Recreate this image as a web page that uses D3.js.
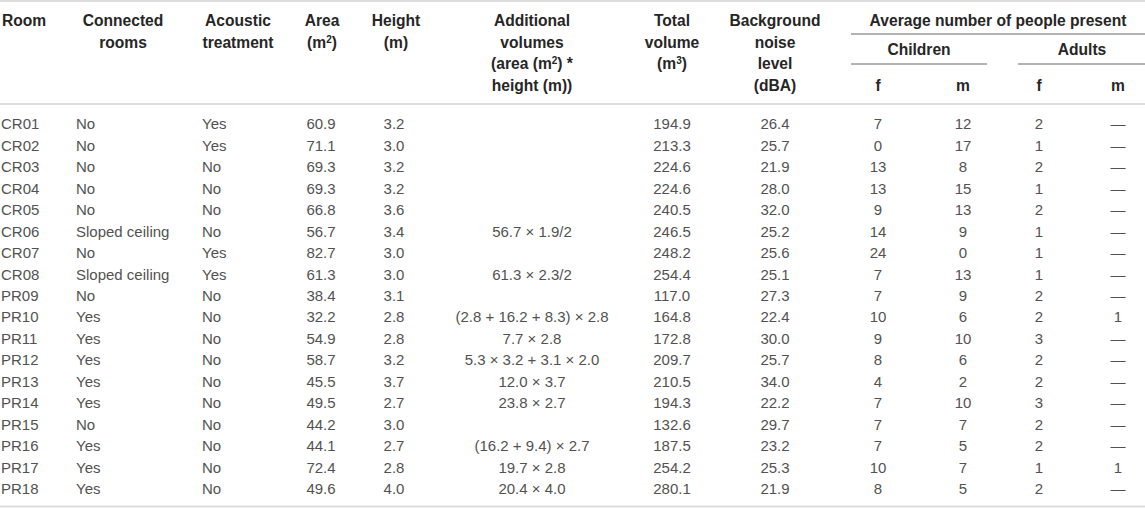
<!DOCTYPE html>
<html>
<head>
<meta charset="utf-8">
<script src="https://cdn.jsdelivr.net/npm/d3@7.9.0/dist/d3.min.js"></script>
<style>
  body { margin: 0; background: #fff; }
  svg { display: block; font-family: "Liberation Sans", Arial, Helvetica, sans-serif; }
  .hd { font-weight: bold; fill: #262626; font-size: 15.6px; }
  .cell { fill: #525252; font-size: 15px; }
</style>
</head>
<body>
<svg id="chart" width="1145" height="508"></svg>
<script>
// table data, one array per column
const rooms = ["CR01", "CR02", "CR03", "CR04", "CR05", "CR06", "CR07", "CR08", "PR09",
  "PR10", "PR11", "PR12", "PR13", "PR14", "PR15", "PR16", "PR17", "PR18"];
const connected = ["No", "No", "No", "No", "No", "Sloped ceiling", "No", "Sloped ceiling", "No",
  "Yes", "Yes", "Yes", "Yes", "Yes", "No", "Yes", "Yes", "Yes"];
const acoustic = ["Yes", "Yes", "No", "No", "No", "No", "Yes", "Yes", "No",
  "No", "No", "No", "No", "No", "No", "No", "No", "No"];
const area = [60.9, 71.1, 69.3, 69.3, 66.8, 56.7, 82.7, 61.3, 38.4,
  32.2, 54.9, 58.7, 45.5, 49.5, 44.2, 44.1, 72.4, 49.6];
const height = [3.2, 3.0, 3.2, 3.2, 3.6, 3.4, 3.0, 3.0, 3.1,
  2.8, 2.8, 3.2, 3.7, 2.7, 3.0, 2.7, 2.8, 4.0];
const additional = ["", "", "", "", "", "56.7 × 1.9/2", "", "61.3 × 2.3/2", "",
  "(2.8 + 16.2 + 8.3) × 2.8", "7.7 × 2.8", "5.3 × 3.2 + 3.1 × 2.0", "12.0 × 3.7",
  "23.8 × 2.7", "", "(16.2 + 9.4) × 2.7", "19.7 × 2.8", "20.4 × 4.0"];
const totalVolume = [194.9, 213.3, 224.6, 224.6, 240.5, 246.5, 248.2, 254.4, 117.0,
  164.8, 172.8, 209.7, 210.5, 194.3, 132.6, 187.5, 254.2, 280.1];
const noise = [26.4, 25.7, 21.9, 28.0, 32.0, 25.2, 25.6, 25.1, 27.3,
  22.4, 30.0, 25.7, 34.0, 22.2, 29.7, 23.2, 25.3, 21.9];
const childF = [7, 0, 13, 13, 9, 14, 24, 7, 7, 10, 9, 8, 4, 7, 7, 7, 10, 8];
const childM = [12, 17, 8, 15, 13, 9, 0, 13, 9, 6, 10, 6, 2, 10, 7, 5, 7, 5];
const adultF = [2, 1, 2, 1, 2, 1, 1, 1, 2, 2, 3, 2, 2, 3, 2, 2, 1, 2];
const adultM = [null, null, null, null, null, null, null, null, null,
  1, null, null, null, null, null, null, 1, null];

// header texts ("^n" marks a superscript)
const headers = [
  ["Room"],
  ["Connected", "rooms"],
  ["Acoustic", "treatment"],
  ["Area", "(m^2)"],
  ["Height", "(m)"],
  ["Additional", "volumes", "(area (m^2) *", "height (m))"],
  ["Total", "volume", "(m^3)"],
  ["Background", "noise", "level", "(dBA)"]
];
const groupTitle = "Average number of people present";
const subGroups = ["Children", "Adults"];
const subLabels = ["f", "m", "f", "m"];

const fmt1 = d3.format(".1f");
const columns = [
  { key: "room", values: rooms, fmt: d => d },
  { key: "connected", values: connected, fmt: d => d },
  { key: "acoustic", values: acoustic, fmt: d => d },
  { key: "area", values: area, fmt: fmt1 },
  { key: "height", values: height, fmt: fmt1 },
  { key: "additional", values: additional, fmt: d => d },
  { key: "total", values: totalVolume, fmt: fmt1 },
  { key: "noise", values: noise, fmt: fmt1 },
  { key: "childF", values: childF, fmt: d => d },
  { key: "childM", values: childM, fmt: d => d },
  { key: "adultF", values: adultF, fmt: d => d },
  { key: "adultM", values: adultM, fmt: d => d == null ? "—" : d }
];

const svg = d3.select("#chart");

// layout scales
const colX = d3.scaleOrdinal()
  .domain(columns.map(c => c.key))
  .range([1, 76, 202, 321, 394, 532, 672, 775, 878, 963, 1039, 1118]);
const colAnchor = d3.scaleOrdinal()
  .domain(columns.map(c => c.key))
  .range(["start", "start", "start", "middle", "middle", "middle", "middle", "middle",
    "middle", "middle", "middle", "middle"]);
const headX = d3.scaleOrdinal()
  .domain(columns.slice(0, 8).map(c => c.key))
  .range([2, 123, 238, 322, 396, 532, 672, 775]);
const rowY = d3.scalePoint().domain(rooms).range([124, 489]);
const lineY = d3.scaleLinear().domain([0, 3]).range([20.5, 85.5]);

// rules
const rule = (x1, x2, y, color, w) => svg.append("line")
  .attr("x1", x1).attr("x2", x2).attr("y1", y).attr("y2", y)
  .attr("stroke", color).attr("stroke-width", w);
rule(0, 1145, 1, "#dcdcdc", 2);
rule(0, 1145, 104, "#dcdcdc", 2);
rule(0, 1145, 506.5, "#dcdcdc", 2);
rule(851, 1145, 34, "#666", 1);
rule(851, 987, 64, "#666", 1);
rule(1018, 1145, 64, "#666", 1);

// write a line with optional superscripts
function writeLine(sel, str) {
  const parts = str.split(/\^(\d)/);
  parts.forEach((p, i) => {
    if (i % 2 === 0) {
      if (p) sel.append("tspan").text(p).attr("dy", i > 0 ? 5 : null);
    } else {
      sel.append("tspan").text(p).attr("font-size", 10).attr("dy", -5);
    }
  });
}

// column headers
columns.slice(0, 8).forEach((c, ci) => {
  headers[ci].forEach((line, li) => {
    const t = svg.append("text")
      .attr("class", "hd")
      .attr("x", headX(c.key))
      .attr("y", lineY(li))
      .attr("dy", "0.35em")
      .attr("text-anchor", ci === 0 ? "start" : "middle");
    writeLine(t, line);
  });
});

// grouped header
svg.append("text").attr("class", "hd").attr("x", 998).attr("y", lineY(0))
  .attr("dy", "0.35em").attr("text-anchor", "middle").text(groupTitle);
svg.selectAll("text.sub").data(subGroups).join("text")
  .attr("class", "hd sub")
  .attr("x", (d, i) => [919, 1082][i])
  .attr("y", 50).attr("dy", "0.35em").attr("text-anchor", "middle")
  .text(d => d);
svg.selectAll("text.fm").data(subLabels).join("text")
  .attr("class", "hd fm")
  .attr("x", (d, i) => colX(columns[8 + i].key))
  .attr("y", lineY(3)).attr("dy", "0.35em").attr("text-anchor", "middle")
  .text(d => d);

// body cells
columns.forEach(c => {
  svg.append("g").selectAll("text")
    .data(c.values)
    .join("text")
    .attr("class", "cell")
    .attr("x", colX(c.key))
    .attr("y", (d, i) => rowY(rooms[i]))
    .attr("dy", "0.35em")
    .attr("text-anchor", colAnchor(c.key))
    .text(d => c.fmt(d));
});
</script>
</body>
</html>
